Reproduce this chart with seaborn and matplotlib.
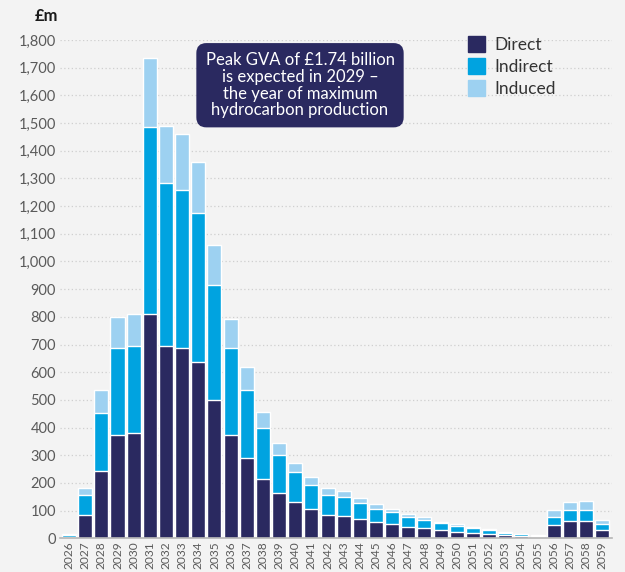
import pandas as pd
import numpy as np
import matplotlib.pyplot as plt
import seaborn as sns
from matplotlib.patches import Patch

# Data (GBP million)
years = [str(y) for y in range(2026, 2060)]
direct = [4, 84, 243, 373, 380, 810, 694, 687, 637, 499, 373, 290, 214, 164, 131, 106,
          84, 81, 70, 59, 52, 41, 37, 30, 22, 19, 16, 12, 8, 4, 48, 62, 62, 30]
indirect = [7, 72, 211, 314, 314, 675, 589, 571, 538, 415, 314, 246, 184, 137, 108, 86,
            72, 68, 58, 47, 43, 36, 29, 25, 22, 18, 14, 7, 8, 4, 29, 40, 40, 22]
induced = [3, 25, 80, 112, 116, 249, 206, 202, 184, 145, 105, 82, 58, 43, 33, 29,
           25, 22, 18, 18, 11, 11, 11, 4, 8, 4, 4, 3, 1, 4, 25, 29, 33, 14]

df = pd.DataFrame({'year': years, 'Direct': direct, 'Indirect': indirect, 'Induced': induced})
df['lvl2'] = df['Direct'] + df['Indirect']
df['total'] = df['lvl2'] + df['Induced']

c_direct = '#2a2960'
c_indirect = '#00a3e0'
c_induced = '#9dd1f1'
bg = '#f3f3f3'

sns.set_style('white', {'axes.facecolor': bg, 'figure.facecolor': bg})
plt.rcParams['font.family'] = ['Lato', 'DejaVu Sans']

fig = plt.figure(figsize=(6.25, 5.72), dpi=100)
ax = fig.add_axes([0.096, 0.059, 0.883, 0.871])

# stacked bars: draw totals first, then overlay lower levels
sns.barplot(data=df, x='year', y='total', color=c_induced, width=0.87, saturation=1, ax=ax)
sns.barplot(data=df, x='year', y='lvl2', color=c_indirect, width=0.87, saturation=1, ax=ax)
sns.barplot(data=df, x='year', y='Direct', color=c_direct, width=0.87, saturation=1, ax=ax)

ax.set_ylim(0, 1800)
ax.set_xlim(-0.56, 33.6)
ax.set_yticks(range(0, 1900, 100))
ax.set_yticklabels(['{:,}'.format(v) for v in range(0, 1900, 100)], fontsize=10.5,
                   color='#5a5a5a')
ax.set_xticks(range(len(years)))
ax.set_xticklabels(years, rotation=90, fontsize=8.6, color='#5a5a5a')
ax.tick_params(axis='y', length=0, pad=3)
ax.tick_params(axis='x', length=0, pad=2)
ax.set_xlabel('')
ax.set_ylabel('')

ax.yaxis.grid(True, linestyle=(0, (1, 2)), color='#cfcfcf', linewidth=0.9)
ax.set_axisbelow(True)
for s in ['top', 'right', 'left']:
    ax.spines[s].set_visible(False)
ax.spines['bottom'].set_color('#b5b5b5')
ax.spines['bottom'].set_linewidth(1.2)

fig.text(0.056, 0.972, '£m', fontsize=12, fontweight='bold', color='#1a1a1a', va='center')

fig.text(0.48, 0.851, 'Peak GVA of £1.74 billion\nis expected in 2029 –\nthe year of maximum\nhydrocarbon production',
         ha='center', va='center', fontsize=12, color='white', linespacing=1.05,
         bbox=dict(boxstyle='round,pad=0.55,rounding_size=0.6', fc=c_direct, ec='none'))

handles = [Patch(color=c_direct, label='Direct'),
           Patch(color=c_indirect, label='Indirect'),
           Patch(color=c_induced, label='Induced')]
leg = fig.legend(handles=handles, loc='upper left', bbox_to_anchor=(0.735, 0.952),
                 frameon=False, fontsize=12.5, handlelength=1.0, handleheight=1.0,
                 handletextpad=0.5, labelspacing=0.3, borderpad=0)
for t in leg.get_texts():
    t.set_color('#333333')

fig.savefig('out.png', dpi=100, facecolor=bg)
